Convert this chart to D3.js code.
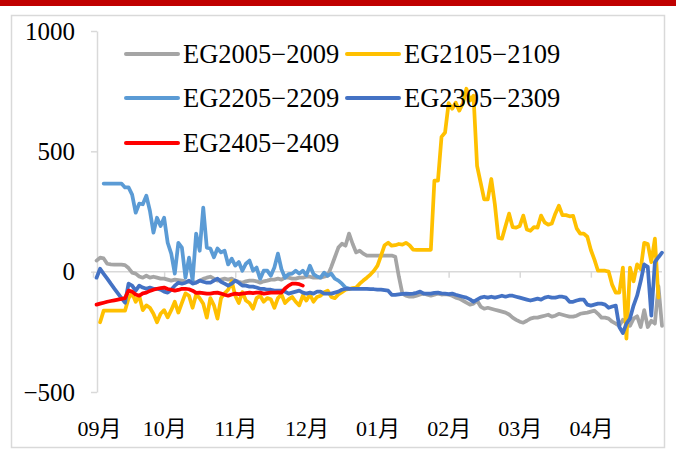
<!DOCTYPE html>
<html>
<head>
<meta charset="utf-8">
<script src="https://cdn.jsdelivr.net/npm/d3@7"></script>
<style>
  body { margin: 0; background: #fff; }
  text { font-family: "Liberation Serif", "Times New Roman", "Noto Sans CJK SC", serif; fill: #000; }
</style>
</head>
<body>
<svg id="chart"></svg>
<script>
const w = 676;
const h = 451;

// month labels sit every 20 points along the season
const monthLabels = ["09月", "10月", "11月", "12月", "01月", "02月", "03月", "04月"];
const monthTicks = [0, 20, 40, 60, 80, 100, 120, 140];
const yTicks = [-500, 0, 500, 1000];

const seriesNames = ["EG2005−2009", "EG2105−2109", "EG2205−2209", "EG2305−2309", "EG2405−2409"];
const seriesColors = ["#A5A5A5", "#FFC000", "#5B9BD5", "#4472C4", "#FF0000"];
const seriesStart = [1, 2, 3, 1, 1];

const eg2005 = [46, 58, 55, 33, 30, 29, 29, 29, 27, 15, -4, -8, -20, -25, -17, -25, -21, -25, -29, -29,
  -33, -37, -33, -35, -37, -40, -42, -42, -45, -37, -30, -25, -21, -29, -37, -33, -29, -33, -29, -37,
  -42, -46, -40, -37, -37, -40, -46, -40, -37, -33, -33, -29, -33, -25, -25, -29, -29, -25, -25, -21,
  -21, -25, -25, -25, -21, -17, 20, 60, 100, 116, 108, 158, 116, 80, 87, 75, 67, 67, 67, 67,
  67, 67, 67, 67, 62, -20, -91, -100, -104, -104, -100, -95, -91, -96, -100, -96, -91, -95, -93, -96,
  -100, -108, -112, -120, -129, -137, -133, -120, -145, -154, -150, -154, -158, -162, -166, -170, -178, -191, -200, -208,
  -212, -204, -195, -191, -191, -187, -183, -179, -187, -183, -175, -179, -183, -187, -187, -183, -175, -172, -170, -166,
  -162, -175, -191, -191, -195, -208, -216, -225, -200, -212, -225, -195, -185, -230, -160, -230, -204, -216, -60, -225];

const eg2105 = [-210, -162, -162, -162, -162, -162, -162, -162, -110, -90, -125, -100, -160, -140, -150, -175, -210, -175, -160,
  -190, -160, -125, -170, -130, -90, -100, -150, -95, -110, -133, -191, -110, -140, -195, -110, -90, -75, -40, -100,
  -130, -85, -120, -130, -154, -110, -100, -125, -110, -115, -150, -110, -95, -130, -115, -105, -125, -140, -100, -120,
  -95, -125, -105, -100, -85, -79, -105, -110, -95, -85, -75, -72, -68, -66, -50, -37, -25, -12, 4, 25,
  67, 110, 120, 108, 110, 115, 112, 120, 110, 92, 91, 91, 91, 91, 91, 378, 378, 560, 578, 700,
  677, 702, 669, 700, 760, 711, 731, 440, 370, 300, 300, 385, 280, 140, 137, 190, 241, 185, 183, 190,
  233, 175, 170, 185, 183, 233, 205, 195, 200, 241, 274, 235, 235, 230, 232, 180, 158, 158, 145, 90,
  50, 4, 4, 4, 0, -55, -87, -87, 17, -278, 17, -40, 30, 10, 120, 115, 40, 137, -108];

const eg2205 = [366, 366, 366, 366, 366, 366, 350, 350, 320, 245, 283, 280, 316, 253, 162, 224, 190, 224,
  120, 75, -8, 120, 100, -25, 58, -37, 158, 87, 266, 100, 96, 60, 96, 80, 87, 30, 54, 25,
  40, 4, 33, 46, 4, 17, -30, 4, 4, -17, 17, 75, 10, -25, -10, -8, 4, -8, 4, -15,
  25, -10, -20, -25, -4, -17, -8, -29, -37, -50, -66, -70];

const eg2305 = [-25, 12, -9, -29, -50, -70, -90, -110, -129, -50, -58, -79, -58, -66, -71, -66, -71, -71, -75, -83,
  -87, -75, -58, -46, -50, -46, -37, -50, -46, -37, -42, -46, -46, -37, -29, -42, -50, -58, -50, -37,
  -46, -58, -58, -62, -62, -66, -71, -71, -75, -75, -79, -79, -79, -83, -91, -87, -83, -79, -87, -91,
  -87, -91, -83, -83, -91, -91, -91, -87, -83, -75, -71, -71, -71, -71, -71, -72, -72, -73, -73, -75,
  -75, -77, -79, -96, -96, -94, -92, -91, -92, -91, -88, -83, -91, -91, -91, -88, -87, -90, -91, -93,
  -91, -96, -100, -104, -108, -115, -125, -116, -108, -104, -108, -104, -108, -104, -100, -104, -100, -100, -104, -108,
  -112, -116, -120, -116, -112, -116, -108, -104, -108, -108, -104, -104, -108, -125, -125, -120, -116, -116, -137, -141,
  -137, -133, -133, -137, -150, -145, -141, -230, -255, -216, -195, -141, -100, -40, 30, 20, -183, 40, 60, 79];

const eg2405 = [-137, -133, -129, -125, -122, -119, -116, -113, -110, -79, -83, -95, -100, -90, -87, -80, -75, -71, -68, -66,
  -72, -75, -79, -76, -71, -71, -73, -79, -88, -87, -89, -91, -91, -88, -87, -91, -96, -100, -95, -91,
  -93, -91, -89, -87, -89, -87, -87, -91, -89, -87, -87, -86, -87, -70, -58, -50, -50, -52, -58];

const seriesValues = [eg2005, eg2105, eg2205, eg2305, eg2405];

const plotLeft = 97;

const xScale = d3.scaleLinear()
    .domain([0, 160])
    .range([93, 662]);
const yScale = d3.scaleLinear()
    .domain([-500, 1000])
    .range([392, 31]);

const svg = d3.select("#chart")
    .attr("width", w)
    .attr("height", h);

// red band on top + light frame
svg.append("rect")
    .attr("x", 0).attr("y", 0)
    .attr("width", w).attr("height", 6)
    .attr("fill", "#C00000");

svg.append("rect")
    .attr("x", 11.5).attr("y", 15.5)
    .attr("width", 653).attr("height", 432)
    .attr("fill", "#fff")
    .attr("stroke", "#D9D9D9")
    .attr("stroke-width", 1.5);

// Y axis
const yAxis = d3.axisLeft(yScale)
    .tickValues(yTicks)
    .tickSize(6)
    .tickSizeOuter(0)
    .tickPadding(16)
    .tickFormat(d3.format("d"));

const gy = svg.append("g")
    .attr("transform", `translate(${plotLeft},0)`)
    .call(yAxis);
gy.select(".domain").attr("stroke", "#D9D9D9").attr("stroke-width", 1.5);
gy.selectAll(".tick line").attr("stroke", "#D9D9D9").attr("stroke-width", 1.5);
gy.selectAll(".tick text")
    .style("font-size", "25px")
    .style("font-family", "'Liberation Serif', serif");

// zero line with month ticks
const xAxisZero = d3.axisBottom(xScale)
    .tickValues(monthTicks)
    .tickSize(6)
    .tickFormat("");

const gz = svg.append("g")
    .attr("transform", `translate(0,${yScale(0)})`)
    .call(xAxisZero);
gz.select(".domain").remove();
gz.selectAll(".tick line").attr("stroke", "#D9D9D9").attr("stroke-width", 1.5);
gz.append("line")
    .attr("x1", plotLeft).attr("x2", xScale(160))
    .attr("stroke", "#D9D9D9").attr("stroke-width", 1.5);

// month labels at the bottom
const xAxisLabels = d3.axisBottom(xScale)
    .tickValues(monthTicks)
    .tickSize(0)
    .tickPadding(0)
    .tickFormat((d, i) => monthLabels[i]);

const gx = svg.append("g")
    .attr("transform", "translate(0,420)")
    .call(xAxisLabels);
gx.select(".domain").remove();
gx.selectAll(".tick text")
    .style("font-size", "22px");
gx.select(".tick text").attr("x", 6);

// lines
const line = d3.line()
    .x(d => xScale(d[0]))
    .y(d => yScale(d[1]))
    .curve(d3.curveLinear);

seriesValues.forEach((vals, k) => {
    const pts = vals.map((v, j) => [seriesStart[k] + j, v]);
    svg.append("path")
        .datum(pts)
        .attr("d", line)
        .attr("fill", "none")
        .attr("stroke", seriesColors[k])
        .attr("stroke-width", 3.75)
        .attr("stroke-linejoin", "round")
        .attr("stroke-linecap", "round");
});

// legend
const legendPos = [[126, 54], [347, 54], [126, 98], [347, 98], [126, 143]];

const legend = svg.append("g");
seriesNames.forEach((name, k) => {
    const [lx, ly] = legendPos[k];
    legend.append("line")
        .attr("x1", lx).attr("x2", lx + 52)
        .attr("y1", ly).attr("y2", ly)
        .attr("stroke", seriesColors[k])
        .attr("stroke-width", 4)
        .attr("stroke-linecap", "round");
    legend.append("text")
        .attr("x", lx + 57)
        .attr("y", ly)
        .attr("dy", "0.35em")
        .style("font-size", "26.5px")
        .text(name);
});
</script>
</body>
</html>
